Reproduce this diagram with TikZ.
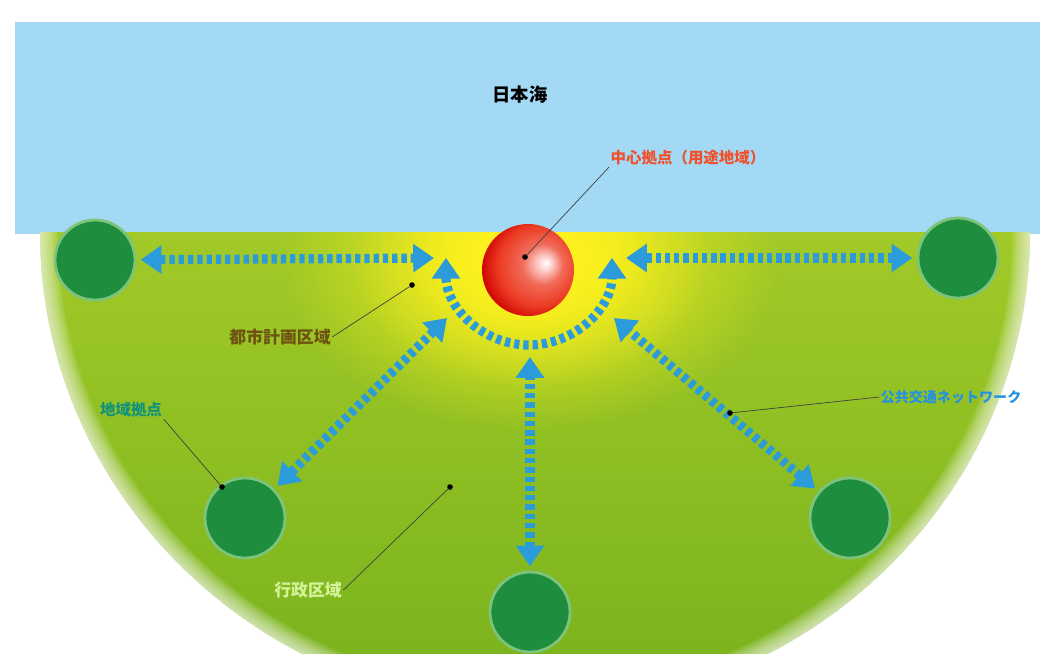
\documentclass[tikz,border=0pt]{standalone}
\usepackage{fontspec}
\newfontfamily\jp{Noto Sans CJK JP}
\usepackage{tikz}
\usetikzlibrary{arrows.meta}
\usetikzlibrary{fadings}

\definecolor{sea}{HTML}{A3D9F5}
\definecolor{landtop}{HTML}{A2CA28}
\definecolor{landbot}{HTML}{7CB41E}
\definecolor{glow}{HTML}{FFF21E}
\definecolor{hubfill}{HTML}{1E8E3E}
\definecolor{hubring}{HTML}{7CC47A}
\definecolor{corered}{HTML}{EC3A22}
\definecolor{linkblue}{HTML}{2C9BDA}
\definecolor{coretext}{HTML}{F0502A}
\definecolor{citytext}{HTML}{6E5212}
\definecolor{hubtext}{HTML}{12927A}
\definecolor{nettext}{HTML}{2392E0}
\definecolor{areatext}{HTML}{D4F29A}

\tikzfading[name=glowfade, inner color=transparent!0, outer color=transparent!100]
\pgfdeclareradialshading{coreshade}{\pgfpoint{10bp}{4bp}}{%
    color(0bp)=(white); color(3bp)=(white!85!red); color(11bp)=(corered!75!white);
    color(22bp)=(corered); color(30bp)=(red!80!black); color(50bp)=(red!80!black)}

\begin{document}
\begin{tikzpicture}[x=0.025cm,y=-0.025cm,
    hub/.style={circle,fill=hubfill,draw=hubring,line width=2pt,minimum size=2cm,inner sep=0pt},
    core/.style={circle,shading=coreshade,minimum size=2.3cm,inner sep=0pt},
    link/.style={linkblue,line width=0.23cm,dash pattern=on 3.8pt off 2.8pt,
        {Triangle[length=0.52cm,width=0.68cm]}-{Triangle[length=0.52cm,width=0.68cm]}},
    lbl/.style={font=\jp\bfseries\fontsize{11pt}{13pt}\selectfont,inner sep=1pt},
    leader/.style={black!75,line width=0.5pt},
    spot/.style={circle,fill=black,minimum size=4pt,inner sep=0pt}]

    \useasboundingbox (0,0) rectangle (1043,653);

    % Sea
    \fill[sea] (15,22) rectangle (1040,234);

    % Land: half ellipse with a soft edge and the yellow glow
    \begin{scope}
        \clip (1030,232) arc[start angle=0,end angle=180,x radius=495,y radius=478] -- cycle;
        \shade[top color=landtop,bottom color=landbot] (0,230) rectangle (1043,653);
        \fill[glow,path fading=glowfade] (530,262) ellipse (250 and 170);
        \fill[glow,path fading=glowfade] (530,262) ellipse (180 and 125);
        \fill[glow,path fading=glowfade] (530,250) ellipse (130 and 90);
        \foreach \w in {3,6,...,36}
            \draw[white,opacity=0.08,line width=\w*0.025cm] (1030,232) arc[start angle=0,end angle=180,x radius=495,y radius=478];
    \end{scope}

    \node[lbl,text=black,font=\jp\bfseries\fontsize{13pt}{15pt}\selectfont] (sealbl) at (520,95) {日本海};

    % Hubs and the central core
    \node[hub] (west) at (95,260) {};
    \node[hub] (east) at (958,258) {};
    \node[hub] (swest) at (245,518) {};
    \node[hub] (seast) at (850,518) {};
    \node[hub] (south) at (530,612) {};
    \node[core] (core) at (528,270) {};

    % Arrow ends next to the core
    \coordinate (wtip) at (434,258);
    \coordinate (etip) at (626,258);
    \coordinate (swtip) at (447,318);
    \coordinate (setip) at (614,318);
    \coordinate (stip) at (530,357);
    \coordinate (arcl) at (446,262);

    % Transit links
    \draw[link,shorten <=3pt] (west) -- (wtip);
    \draw[link,shorten <=3pt] (east) -- (etip);
    \draw[link,shorten <=3pt] (swest) -- (swtip);
    \draw[link,shorten <=3pt] (seast) -- (setip);
    \draw[link,shorten <=3pt] (south) -- (stip);
    \draw[link,shorten <=-3pt,shorten >=-3pt] (arcl) arc[start angle=180,end angle=0,radius=83];

    % Labels
    \node[lbl,text=coretext] (corelbl) at (688,158) {中心拠点（用途地域）};
    \node[lbl,text=citytext,font=\jp\bfseries\fontsize{12pt}{14pt}\selectfont] (citylbl) at (280,337) {都市計画区域};
    \node[lbl,text=hubtext] (hublbl) at (131,410) {地域拠点};
    \node[lbl,text=nettext,font=\jp\bfseries\fontsize{10pt}{12pt}\selectfont] (netlbl) at (951,397) {公共交通ネットワーク};
    \node[lbl,text=areatext,font=\jp\bfseries\fontsize{12pt}{14pt}\selectfont] (arealbl) at (308,590) {行政区域};

    \node[spot] (coredot) at (525,257) {};
    \node[spot] (citydot) at (412,285) {};
    \node[spot] (hubdot) at (222,487) {};
    \node[spot] (netdot) at (730,413) {};
    \node[spot] (areadot) at (450,487) {};

    \draw[leader] (corelbl.south west) -- (coredot);
    \draw[leader] (citylbl.east) -- (citydot);
    \draw[leader] (hublbl.south east) -- (hubdot);
    \draw[leader] (netlbl.west) -- (netdot);
    \draw[leader] (arealbl.east) -- (areadot);

\end{tikzpicture}
\end{document}
